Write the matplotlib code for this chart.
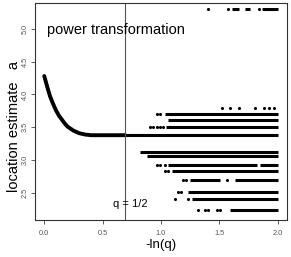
import numpy as np
import matplotlib
matplotlib.use("Agg")
import matplotlib.pyplot as plt

plt.rcParams['font.family'] = ['Liberation Sans', 'DejaVu Sans']

# main curve
curve_x = [0.0, 0.025, 0.05, 0.075, 0.1, 0.125, 0.15, 0.175, 0.2, 0.25, 0.3, 0.35, 0.4, 0.5, 0.6, 0.693]
curve_y = [4.28, 4.12, 3.97, 3.86, 3.76, 3.68, 3.62, 3.56, 3.51, 3.45, 3.41, 3.39, 3.38, 3.38, 3.38, 3.38]

# levels of the estimates for q < 1/2, with dense runs and isolated points
levels = [5.30, 3.79, 3.70, 3.61, 3.51, 3.38, 3.13, 3.07, 2.92, 2.83, 2.70, 2.52, 2.41, 2.24]
runs = [
    [(1.61, 1.67), (1.72, 1.76), (1.87, 2.0)],
    [],
    [(1.034, 2.0)],
    [(1.06, 2.0)],
    [(1.043, 2.0)],
    [(0.693, 2.0)],
    [(0.819, 2.0)],
    [(0.88, 2.0)],
    [(1.06, 1.82), (1.853, 2.0)],
    [(1.095, 2.0)],
    [(1.25, 1.509), (1.638, 2.0)],
    [(1.233, 2.0)],
    [(1.267, 2.0)],
    [(1.595, 2.0)],
]
dots = [
    [1.405, 1.578, 1.84],
    [1.523, 1.595, 1.666, 1.81, 1.882, 1.925, 1.968],
    [0.966, 0.991],
    [],
    [0.905, 0.931, 0.966, 0.991, 1.017],
    [],
    [],
    [],
    [0.966, 0.991, 1.034],
    [1.034, 1.06],
    [1.19, 1.216, 1.566],
    [1.147, 1.172],
    [1.121, 1.233],
    [1.319, 1.379, 1.405, 1.483, 1.509],
]

x_ticks = [0.0, 0.5, 1.0, 1.5, 2.0]
y_ticks = [2.5, 3.0, 3.5, 4.0, 4.5, 5.0]

fig = plt.figure(figsize=(2.91, 2.57), dpi=100)
ax = fig.add_axes([0.120, 0.144, 0.866, 0.844])

ax.plot(curve_x, curve_y, color='black', lw=2.8, solid_capstyle='round')
for lev, rr, dd in zip(levels, runs, dots):
    for a, b in rr:
        ax.hlines(lev, a, b, color='black', lw=2.2)
    if dd:
        ax.scatter(dd, [lev] * len(dd), s=5, color='black', linewidths=0)

ax.axvline(np.log(2), color='#555555', lw=0.8)
ax.text(0.74, 2.34, 'q = 1/2', ha='center', va='center', fontsize=8)
ax.text(0.02, 4.98, 'power transformation', ha='left', va='center', fontsize=10.5)

ax.set_xlim(-0.08, 2.08)
ax.set_ylim(2.09, 5.39)
ax.set_xticks(x_ticks)
ax.set_xticklabels([f'{t:.1f}' for t in x_ticks])
ax.set_yticks(y_ticks)
ax.set_yticklabels([f'{t:.1f}' for t in y_ticks], rotation=90, va='center')
ax.tick_params(labelsize=5.3, colors='#444444', length=3, width=0.6)
ax.tick_params(axis='x', labelcolor='#555555', pad=4)
ax.tick_params(axis='y', labelcolor='#555555', pad=1.5)
for s in ax.spines.values():
    s.set_color('#333333')
    s.set_linewidth(0.8)

ax.set_xlabel('-ln(q)', fontsize=9.5, labelpad=2)
ax.set_ylabel('location estimate   a', fontsize=10.5)
ax.yaxis.set_label_coords(-0.055, 0.43)

fig.savefig('out.png', dpi=100)
